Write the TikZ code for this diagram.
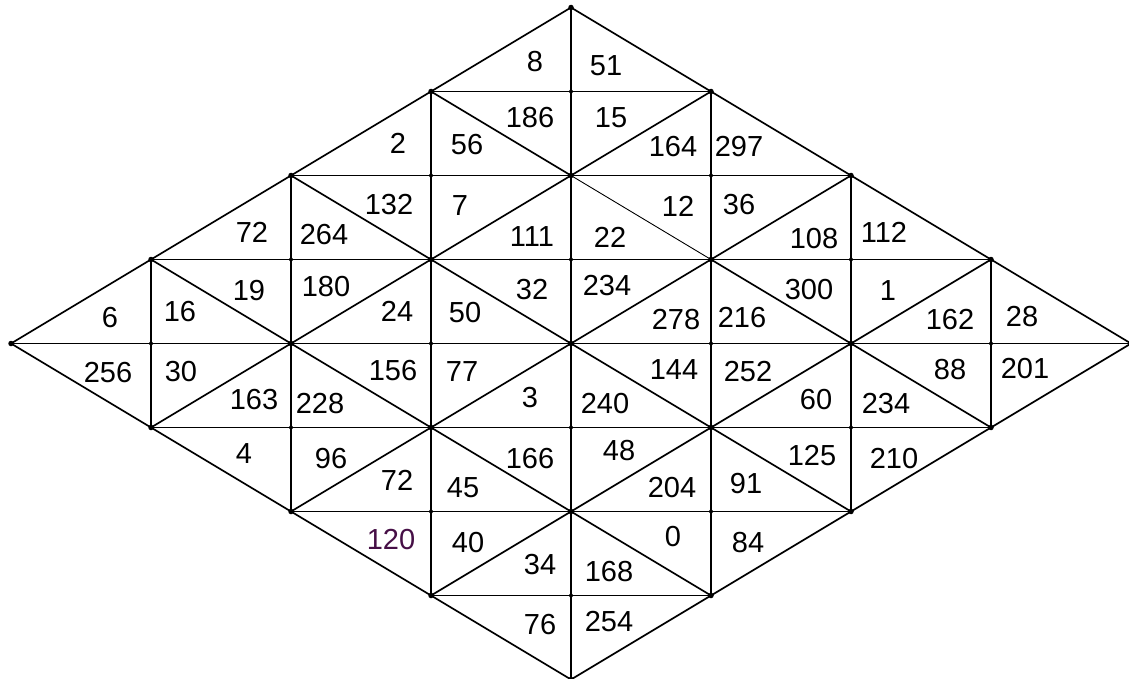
\documentclass[tikz,border=0pt]{standalone}
\usepackage{fontspec}
\setmainfont{Liberation Sans}
\definecolor{numpurple}{RGB}{70,15,70}
\begin{document}
\begin{tikzpicture}[x=1pt,y=-1pt,
  edge/.style={line width=1.7pt,black},
  thinedge/.style={line width=0.9pt,black},
  num/.style={font=\fontsize{29}{29}\selectfont,inner sep=0pt,anchor=center},
  bigdot/.style={fill=black,circle,inner sep=0pt,minimum size=5.5pt},
  smalldot/.style={fill=black,circle,inner sep=0pt,minimum size=4pt}]
\useasboundingbox (0,0) rectangle (1129,679);
% lattice coordinates
\foreach \i in {-4,...,4}{
  \foreach \j in {-4,...,4}{
    \coordinate (p\i/\j) at ({571+140*\i},{343.5+84*\j});
  }
}
% outline
\draw[edge] (p0/-4) -- (p4/0) -- (p0/4) -- (p-4/0) -- cycle;
% horizontals
\foreach \j/\k in {-3/1,-2/2,-1/3,0/4,1/3,2/2,3/1}{
  \draw[edge] (p-\k/\j) -- (p\k/\j);
}
% verticals
\foreach \i/\k in {-3/1,-2/2,-1/3,0/4,1/3,2/2,3/1}{
  \draw[edge] (p\i/-\k) -- (p\i/\k);
}
% down-right diagonals
\draw[edge] (p-1/-3) -- (p0/-2);
\draw[thinedge] (p0/-2) -- (p1/-1);
\draw[edge] (p1/-1) -- (p3/1);
\draw[edge] (p-2/-2) -- (p2/2);
\draw[edge] (p-3/-1) -- (p1/3);
% up-right diagonals
\draw[edge] (p-2/2) -- (p2/-2);
\draw[edge] (p-3/1) -- (p1/-3);
\draw[edge] (p-1/3) -- (p3/-1);
% dots
\foreach \i/\j in {0/-4,-1/-3,1/-3,-2/-2,0/-2,2/-2,-3/-1,-1/-1,1/-1,3/-1,-4/0,-2/0,0/0,2/0,4/0,-3/1,-1/1,1/1,3/1,-2/2,0/2,2/2,-1/3,1/3,0/4}{
  \node[bigdot] at (p\i/\j) {};
}
\foreach \i/\j in {0/-3,-1/-2,1/-2,-2/-1,0/-1,2/-1,-3/0,-1/0,1/0,3/0,-2/1,0/1,2/1,-1/2,1/2,0/3}{
  \node[smalldot] at (p\i/\j) {};
}
% numbers
\node[num] (n8) at (535,62) {8};
\node[num] (n51) at (606,66) {51};
\node[num] (n2) at (398,143) {2};
\node[num] (n186) at (530,118) {186};
\node[num] (n56) at (467,145) {56};
\node[num] (n15) at (611,118) {15};
\node[num] (n164) at (673,147) {164};
\node[num] (n297) at (739,147) {297};
\node[num] (n72a) at (252,232) {72};
\node[num] (n264) at (324,235) {264};
\node[num] (n132) at (389,205) {132};
\node[num] (n7) at (460,206) {7};
\node[num] (n111) at (532,237) {111};
\node[num] (n22) at (610,237) {22};
\node[num] (n12) at (678,206) {12};
\node[num] (n36) at (739,205) {36};
\node[num] (n108) at (814,239) {108};
\node[num] (n112) at (884,232) {112};
\node[num] (n6) at (110,318) {6};
\node[num] (n16) at (180,312) {16};
\node[num] (n19) at (249,291) {19};
\node[num] (n180) at (326,287) {180};
\node[num] (n24) at (397,311) {24};
\node[num] (n50) at (465,313) {50};
\node[num] (n32) at (532,290) {32};
\node[num] (n234a) at (607,286) {234};
\node[num] (n278) at (676,320) {278};
\node[num] (n216) at (742,318) {216};
\node[num] (n300) at (809,290) {300};
\node[num] (n1) at (888,291) {1};
\node[num] (n162) at (950,320) {162};
\node[num] (n28) at (1022,317) {28};
\node[num] (n256) at (108,373) {256};
\node[num] (n30) at (181,372) {30};
\node[num] (n163) at (254,400) {163};
\node[num] (n228) at (320,404) {228};
\node[num] (n156) at (393,371) {156};
\node[num] (n77) at (462,372) {77};
\node[num] (n3) at (530,398) {3};
\node[num] (n240) at (605,404) {240};
\node[num] (n144) at (674,370) {144};
\node[num] (n252) at (748,372) {252};
\node[num] (n60) at (816,400) {60};
\node[num] (n234b) at (886,404) {234};
\node[num] (n88) at (950,370) {88};
\node[num] (n201) at (1025,369) {201};
\node[num] (n4) at (244,454) {4};
\node[num] (n96) at (331,459) {96};
\node[num] (n72b) at (397,480) {72};
\node[num] (n45) at (463,488) {45};
\node[num] (n166) at (530,459) {166};
\node[num] (n48) at (619,451) {48};
\node[num] (n204) at (672,488) {204};
\node[num] (n91) at (746,484) {91};
\node[num] (n125) at (812,456) {125};
\node[num] (n210) at (894,459) {210};
\node[num,text=numpurple] (n120) at (391,540) {120};
\node[num] (n40) at (468,543) {40};
\node[num] (n34) at (540,565) {34};
\node[num] (n168) at (609,572) {168};
\node[num] (n0) at (673,537) {0};
\node[num] (n84) at (748,543) {84};
\node[num] (n76) at (540,625) {76};
\node[num] (n254) at (609,622) {254};
\end{tikzpicture}
\end{document}
